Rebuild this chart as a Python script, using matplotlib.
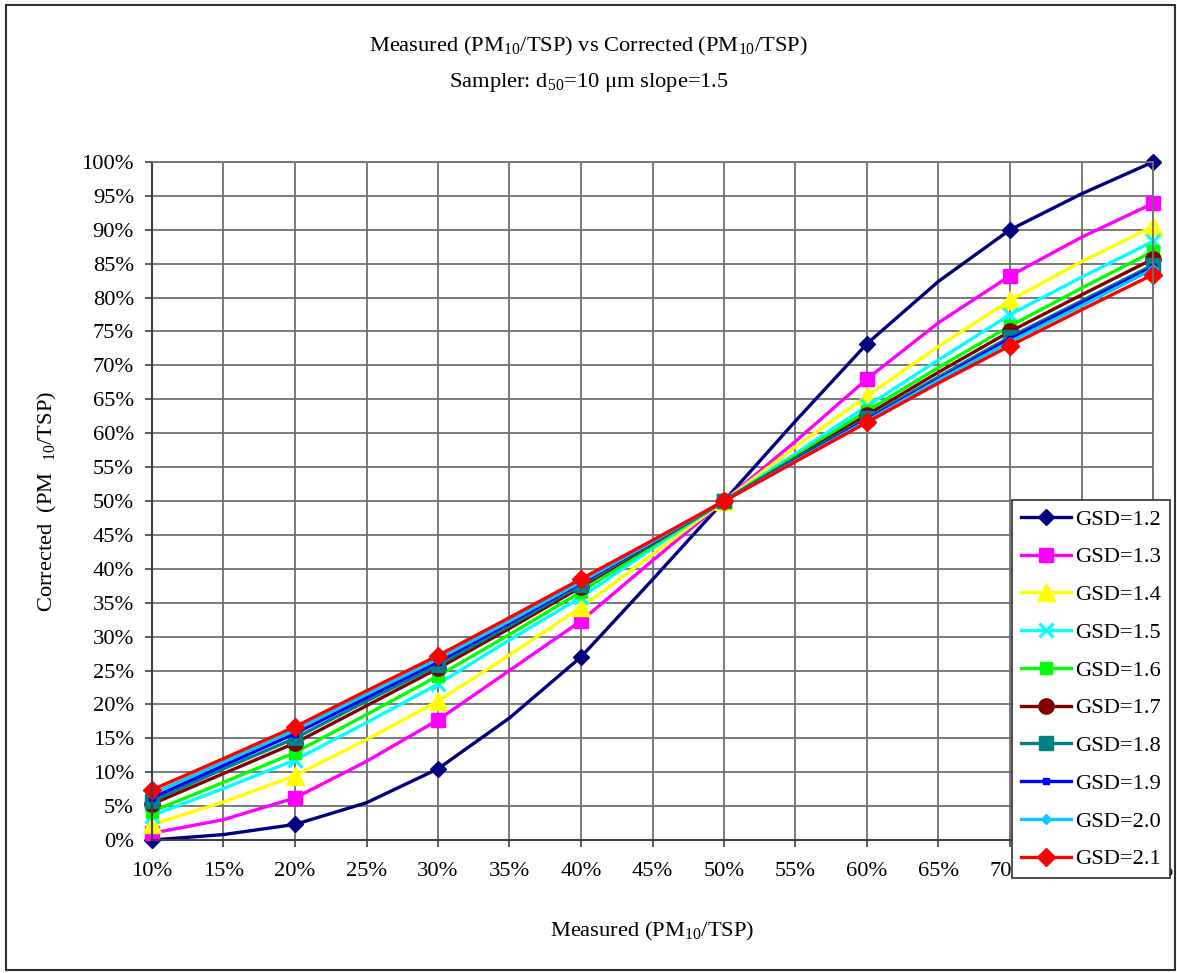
"""
Measured vs corrected PM10/TSP ratio for a d50=10 um, slope=1.5 sampler.
"""

import matplotlib.pyplot as plt
import numpy as np
from matplotlib.patches import Rectangle
from matplotlib.ticker import MultipleLocator, PercentFormatter


# ------------------------------------------------------------
# Data (percent)
# ------------------------------------------------------------

MEASURED = [10, 15, 20, 25, 30, 35, 40, 45, 50, 55, 60, 65, 70, 75, 80]

GSD_LABELS = ["GSD=1.2", "GSD=1.3", "GSD=1.4", "GSD=1.5", "GSD=1.6",
              "GSD=1.7", "GSD=1.8", "GSD=1.9", "GSD=2.0", "GSD=2.1"]

GSD_12 = [0.0, 0.8, 2.3, 5.5, 10.5, 18.0, 27.0, 38.4, 50, 61.8, 73.2, 82.4, 90.0, 95.3, 100.0]
GSD_13 = [1.0, 3.0, 6.2, 11.6, 17.7, 25.0, 32.3, 41.2, 50, 58.8, 68.0, 76.3, 83.2, 88.9, 93.9]
GSD_14 = [2.3, 5.6, 9.5, 14.8, 20.5, 27.3, 34.3, 42.1, 50, 58.0, 65.5, 72.8, 79.6, 85.3, 90.5]
GSD_15 = [3.6, 7.6, 11.8, 17.3, 23.0, 29.5, 35.8, 43.0, 50, 57.0, 64.0, 70.8, 77.5, 83.0, 88.3]
GSD_16 = [4.2, 8.5, 12.9, 18.5, 24.2, 30.3, 36.6, 43.4, 50, 56.6, 63.3, 69.7, 75.8, 81.4, 86.8]
GSD_17 = [5.3, 9.8, 14.3, 19.8, 25.3, 31.2, 37.3, 43.7, 50, 56.3, 62.7, 69.0, 75.0, 80.4, 85.7]
GSD_18 = [5.7, 10.5, 15.0, 20.5, 25.8, 31.6, 37.6, 43.8, 50, 56.2, 62.2, 68.3, 74.2, 79.5, 84.8]
GSD_19 = [6.2, 11.0, 15.7, 21.0, 26.3, 32.0, 37.9, 43.9, 50, 56.0, 62.0, 68.0, 73.9, 79.2, 84.5]
GSD_20 = [6.8, 11.5, 16.2, 21.5, 26.7, 32.3, 38.1, 44.0, 50, 55.9, 61.8, 67.8, 73.5, 78.8, 84.2]
GSD_21 = [7.4, 12.0, 16.7, 22.0, 27.2, 32.8, 38.5, 44.2, 50, 55.8, 61.6, 67.4, 72.9, 78.2, 83.4]

SERIES = [GSD_12, GSD_13, GSD_14, GSD_15, GSD_16,
          GSD_17, GSD_18, GSD_19, GSD_20, GSD_21]

# colour, marker, marker size
STYLES = [
    ("#000080", "D", 8),
    ("#FF00FF", "s", 10),
    ("#FFFF00", "^", 13),
    ("#00FFFF", "x", 10),
    ("#00FF00", "s", 8),
    ("#800000", "o", 11),
    ("#008080", "s", 10),
    ("#0000FF", "s", 5),
    ("#00CCFF", "D", 5),
    ("#FF0000", "D", 9),
]


# ------------------------------------------------------------
# Figure
# ------------------------------------------------------------

plt.rcParams["font.family"] = ["Liberation Serif", "DejaVu Serif"]
plt.rcParams["mathtext.fontset"] = "custom"
plt.rcParams["mathtext.rm"] = "Liberation Serif"
plt.rcParams["mathtext.it"] = "Liberation Serif:italic"

FS = 16.2

fig = plt.figure(figsize=(11.77, 9.73), dpi=100)
ax = fig.add_axes([152 / 1177, 1 - 840 / 973, 1001 / 1177, 678 / 973])

x = np.array(MEASURED)
for values, label, (color, marker, ms) in zip(SERIES, GSD_LABELS, STYLES):
    ax.plot(x, values, color=color, lw=2.4, marker=marker, ms=ms,
            markevery=2, mew=2.2 if marker == "x" else 1,
            mec=color, mfc=color, label=label, clip_on=False)

ax.set_xlim(10, 80)
ax.set_ylim(0, 100)
ax.xaxis.set_major_locator(MultipleLocator(5))
ax.yaxis.set_major_locator(MultipleLocator(5))
ax.xaxis.set_major_formatter(PercentFormatter(decimals=0))
ax.yaxis.set_major_formatter(PercentFormatter(decimals=0))
ax.tick_params(direction="out", length=5, width=1.2, color="#404040",
               labelsize=FS)
ax.tick_params(axis="x", pad=11)
ax.tick_params(axis="y", pad=8)
ax.grid(True, color="#707070", lw=1.3)
ax.set_axisbelow(True)

for side in ["top", "right"]:
    ax.spines[side].set_color("#707070")
    ax.spines[side].set_linewidth(1.3)
for side in ["left", "bottom"]:
    ax.spines[side].set_color("#404040")
    ax.spines[side].set_linewidth(1.5)

ax.set_xlabel(r"Measured (PM$_{\mathrm{10}}$/TSP)", fontsize=FS, labelpad=28)
ax.set_ylabel(r"Corrected  (PM  $_{\mathrm{10}}$/TSP)", fontsize=FS, labelpad=16)

fig.text(0.5, 1 - 46 / 973, r"Measured (PM$_{\mathrm{10}}$/TSP) vs Corrected (PM$_{\mathrm{10}}$/TSP)",
         ha="center", va="center", fontsize=FS)
fig.text(0.5, 1 - 82 / 973, r"Sampler: d$_{\mathrm{50}}$=10 μm slope=1.5",
         ha="center", va="center", fontsize=FS)

legend = ax.legend(loc="upper left", bbox_to_anchor=(1012 / 1177, 1 - 500 / 973),
                   bbox_transform=fig.transFigure, fontsize=FS, frameon=True,
                   fancybox=False, framealpha=1, edgecolor="#303030",
                   handlelength=2.2, handletextpad=0.2, labelspacing=0.755,
                   borderpad=0.4, borderaxespad=0)
legend.get_frame().set_linewidth(1.2)
legend.set_zorder(10)

# outer chart border
fig.patches.append(Rectangle((6 / 1177, 3 / 973), 1169 / 1177, 965 / 973,
                             transform=fig.transFigure, fill=False,
                             edgecolor="#303030", lw=1.5))

fig.savefig("out.png", dpi=100)
